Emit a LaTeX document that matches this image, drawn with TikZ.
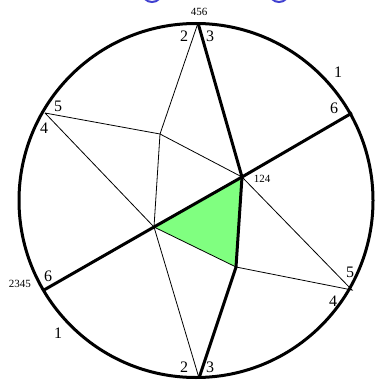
\documentclass[tikz,border=0pt]{standalone}
\usepackage{fontspec}
\setmainfont{Liberation Serif}
\usetikzlibrary{positioning}
\tikzset{
  rim/.style={line width=3pt},
  thk/.style={line width=3pt, line join=round},
  thn/.style={line width=0.8pt},
  num/.style={font=\fontsize{16}{18}\selectfont, inner sep=0pt},
  tag/.style={font=\fontsize{11}{13}\selectfont, inner sep=0pt},
  face/.style={fill=green!50}
}
\definecolor{cB}{RGB}{64,64,208}

\begin{document}
\begin{tikzpicture}[x=1pt,y=-1pt]
  \useasboundingbox (0,0) rectangle (377,382);
  \clip (0,0) rectangle (377,382);
  \draw[cB, line width=2pt] (152,-8) circle (10) (279,-8) circle (10);
  % points on the rim
  \coordinate (T) at (198,23);
  \coordinate (UR) at (352,113);
  \coordinate (UL) at (45,113);
  \coordinate (LL) at (44,290);
  \coordinate (LR) at (352,290);
  \coordinate (Bt) at (199,378);
  % inner points
  \coordinate (A) at (242,177);
  \coordinate (B) at (154,227);
  \coordinate (C) at (160,134);
  \coordinate (D) at (236,267);
  \fill[face] (B) -- (A) -- (D) -- cycle;
  \draw[thn] (T) -- (C) -- (B) -- (Bt);
  \draw[thn] (UL) -- (C) -- (A) -- (LR) -- (D) -- (B) -- (UL);
  \draw[rim] (196,200.5) circle (177);
  \draw[thk] (T) -- (A) -- (D) -- (Bt);
  \draw[thk] (LL) -- (B) -- (A) -- (UR);
  % labels
  \node[tag] (n456) at (199,12) {456};
  \node[tag] (n124) at (262,179) {124};
  \node[tag] (n2345) at (20,284) {2345};
  \node[num] (t2) at (184,36) {2};
  \node[num] (t3) at (210,36) {3};
  \node[num] (ur1) at (338,72) {1};
  \node[num] (ur6) at (334,108) {6};
  \node[num] (ul5) at (58,106) {5};
  \node[num] (ul4) at (44,128) {4};
  \node[num] (ll6) at (48,276) {6};
  \node[num] (ll1) at (58,333) {1};
  \node[num] (b2) at (184,367) {2};
  \node[num] (b3) at (210,367) {3};
  \node[num] (lr5) at (350,272) {5};
  \node[num] (lr4) at (333,301) {4};
\end{tikzpicture}
\end{document}
